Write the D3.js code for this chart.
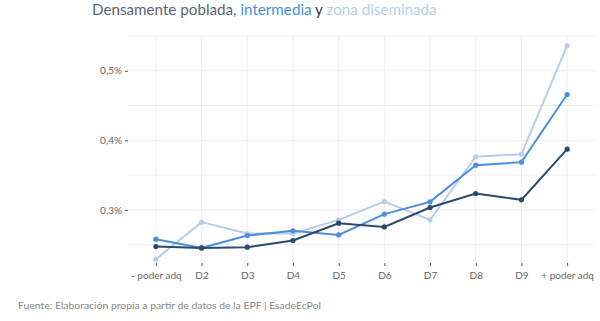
<!DOCTYPE html>
<html><head><meta charset="utf-8">
<script src="https://cdn.jsdelivr.net/npm/d3@7"></script>
<style>body{margin:0;background:#fff}svg{display:block}text{font-family:Lato,"Open Sans",sans-serif}</style>
</head><body><svg id="c" width="600" height="321"></svg>
<script>
const categories = ["- poder adq","D2","D3","D4","D5","D6","D7","D8","D9","+ poder adq"];
const densa = [0.2472,0.2453,0.2463,0.2559,0.2808,0.2755,0.3033,0.3235,0.3144,0.3873];
const intermedia = [0.2578,0.2453,0.2630,0.2698,0.2640,0.2938,0.3115,0.3643,0.3686,0.4659];
const diseminada = [0.2290,0.2823,0.2659,0.2660,0.2856,0.3120,0.2856,0.3763,0.3800,0.5360];
const yTicks = [0.3,0.4,0.5];
const yGrid = [0.25,0.3,0.35,0.4,0.45,0.5,0.55];
const seriesNames = ["Densamente poblada","intermedia","zona diseminada"];

const svg = d3.select("#c");
const L=128, R=595, T=36, B=262;
const x = d3.scalePoint().domain(categories).range([L,R]).padding(0.61);
const y = d3.scaleLinear().domain([0.225,0.55]).range([B,T]);
const colors = ["#2b4a6c","#4a8fdb","#b8cee6"];

const g = svg.append("g");
g.selectAll(".hg").data(yGrid).join("line")
  .attr("x1",L).attr("x2",R).attr("y1",d=>y(d)).attr("y2",d=>y(d))
  .attr("stroke","#eeeeee").attr("stroke-width",1);
g.selectAll(".vg").data(categories).join("line")
  .attr("x1",d=>x(d)).attr("x2",d=>x(d)).attr("y1",T).attr("y2",B)
  .attr("stroke","#eeeeee").attr("stroke-width",1);

const yAxis = d3.axisLeft(y).tickValues(yTicks).tickSize(3).tickPadding(3)
  .tickFormat(d=>d3.format(".1f")(d).replace(".",",")+"%");
const ya = svg.append("g").attr("transform",`translate(${L},0)`).call(yAxis);
ya.select(".domain").remove();
ya.selectAll("line").attr("stroke","#555");
ya.selectAll("text").attr("fill","#666").style("font-size","10px");

const xAxis = d3.axisBottom(x).tickSize(3).tickPadding(6);
const xa = svg.append("g").attr("transform",`translate(0,${B+1})`).call(xAxis);
xa.select(".domain").remove();
xa.selectAll("line").attr("stroke","#555");
xa.selectAll("text").attr("fill","#666").style("font-size","10px");

const line = d3.line().x((d,i)=>x(categories[i])).y(d=>y(d));
[diseminada,intermedia,densa].forEach((s,k)=>{
  const c = colors[2-k];
  svg.append("path").datum(s).attr("d",line).attr("fill","none")
    .attr("stroke",c).attr("stroke-width",2);
  svg.append("g").selectAll("circle").data(s).join("circle")
    .attr("cx",(d,i)=>x(categories[i])).attr("cy",d=>y(d)).attr("r",2.6).attr("fill",c);
});

const title = svg.append("text").attr("x",92).attr("y",15).style("font-size","15.2px");
title.append("tspan").text(seriesNames[0]+", ").attr("fill","#5b6473");
title.append("tspan").text(seriesNames[1]).attr("fill",colors[1]);
title.append("tspan").text(" y ").attr("fill","#2b3a4c");
title.append("tspan").text(seriesNames[2]).attr("fill",colors[2]);

svg.append("text").attr("x",18).attr("y",309).attr("fill","#888")
  .style("font-size","10.4px").text("Fuente: Elaboración propia a partir de datos de la EPF | EsadeEcPol");
</script></body></html>
